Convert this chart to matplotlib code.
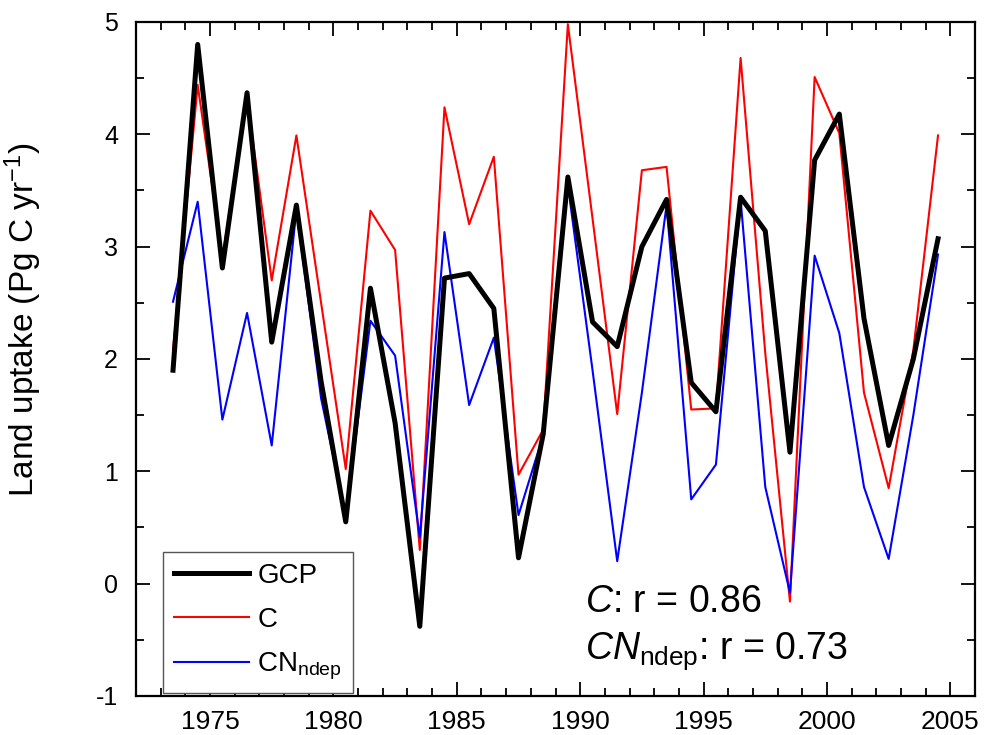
import numpy as np
import matplotlib
matplotlib.use("Agg")
import matplotlib.pyplot as plt
from matplotlib.ticker import MultipleLocator

plt.rcParams["font.family"] = ["Liberation Sans", "DejaVu Sans"]
plt.rcParams["mathtext.fontset"] = "custom"
plt.rcParams["mathtext.rm"] = "Liberation Sans"
plt.rcParams["mathtext.it"] = "Liberation Sans:italic"
plt.rcParams["axes.unicode_minus"] = False

# Mid-year values, 1973.5 .. 2004.5
years = np.arange(1973, 2005) + 0.5

gcp = [1.90, 4.80, 2.81, 4.37, 2.15, 3.37, 1.80, 0.55, 2.63, 1.43,
       -0.38, 2.72, 2.76, 2.45, 0.23, 1.33, 3.62, 2.33, 2.11, 3.00,
       3.42, 1.79, 1.53, 3.44, 3.14, 1.17, 3.77, 4.18, 2.36, 1.23,
       2.00, 3.07]
c_model = [2.08, 4.44, 2.90, 4.33, 2.70, 3.99, 2.50, 1.02, 3.32, 2.97,
           0.30, 4.24, 3.20, 3.80, 0.97, 1.37, 4.98, 3.25, 1.51, 3.68,
           3.71, 1.55, 1.56, 4.68, 2.05, -0.16, 4.51, 4.01, 1.70, 0.85,
           2.08, 3.99]
cn_ndep = [2.51, 3.40, 1.46, 2.41, 1.23, 3.33, 1.65, 0.60, 2.34, 2.03,
           0.41, 3.13, 1.59, 2.19, 0.61, 1.32, 3.55, 1.90, 0.20, 1.70,
           3.37, 0.75, 1.06, 3.42, 0.86, -0.08, 2.92, 2.23, 0.86, 0.22,
           1.50, 2.93]

fig = plt.figure(figsize=(9.92, 7.35), dpi=100)
ax = fig.add_axes([0.1371, 0.0531, 0.8458, 0.9170])

ax.plot(years, gcp, color="black", lw=3.6, label="GCP", zorder=3)
ax.plot(years, c_model, color="#ff0000", lw=1.5, label="C", zorder=2)
ax.plot(years, cn_ndep, color="#0000ff", lw=1.5,
        label=r"CN$_{\mathrm{ndep}}$", zorder=2)

ax.set_xlim(1972, 2006)
ax.set_ylim(-1, 5)
ax.xaxis.set_major_locator(MultipleLocator(5))
ax.xaxis.set_minor_locator(MultipleLocator(1))
ax.yaxis.set_major_locator(MultipleLocator(1))
ax.yaxis.set_minor_locator(MultipleLocator(0.5))

for s in ax.spines.values():
    s.set_linewidth(1.6)
ax.tick_params(which="both", direction="in", top=True, right=True, width=1.3)
ax.tick_params(which="major", length=10)
ax.tick_params(which="minor", length=6)
ax.tick_params(axis="x", labelsize=19, pad=10)
ax.tick_params(axis="y", labelsize=18, pad=13)

ax.set_ylabel(r"Land uptake (Pg C yr$^{-1}$)", fontsize=24)
ax.yaxis.set_label_coords(-0.110, 0.558)

leg = ax.legend(loc="lower left", bbox_to_anchor=(0.032, 0.004),
                borderaxespad=0, fontsize=20, handlelength=2.7,
                handletextpad=0.3, labelspacing=0.65, borderpad=0.4,
                fancybox=False, framealpha=1)
leg.get_frame().set_edgecolor("#555555")
leg.get_frame().set_linewidth(1.0)

ax.text(0.535, 0.125, r"$\mathit{C}$: r = 0.86", transform=ax.transAxes,
        fontsize=27, ha="left", va="baseline")
ax.text(0.535, 0.055, r"$\mathit{CN}_{\mathrm{ndep}}$: r = 0.73",
        transform=ax.transAxes, fontsize=27, ha="left", va="baseline")

fig.savefig("out.png", dpi=100)
